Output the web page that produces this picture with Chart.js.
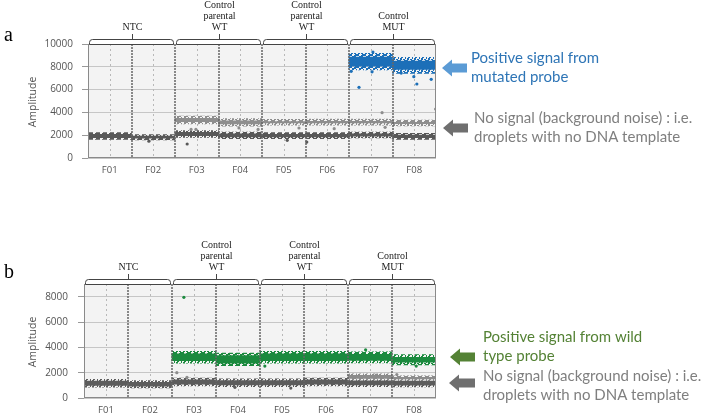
<!DOCTYPE html>
<html>
<head>
<meta charset="utf-8">
<script src="https://cdn.jsdelivr.net/npm/chart.js@4.4.0/dist/chart.umd.min.js"></script>
<style>
    html, body { margin: 0; padding: 0; background: #fff; }
    body { width: 709px; height: 418px; position: relative; overflow: hidden; }
    canvas { position: absolute; left: 0; }
    #chart-a { top: 0; }
    #chart-b { top: 190px; }
</style>
</head>
<body>
<canvas id="chart-a" width="709" height="190"></canvas>
<canvas id="chart-b" width="709" height="228"></canvas>
<script>
// wells on the x axis
var wells = ['F01', 'F02', 'F03', 'F04', 'F05', 'F06', 'F07', 'F08'];

// sample groups above the wells
var groupNames = [['NTC'], ['Control', 'parental', 'WT'], ['Control', 'parental', 'WT'], ['Control', 'MUT']];
var groupSpans = [[0, 2], [2, 4], [4, 6], [6, 8]];

// panel a : droplet clusters, [low, high] amplitude per well (null = no cluster)
var aNoise = [[1640, 2220], [1580, 2050], [1810, 2400], [1700, 2280], [1700, 2220], [1700, 2220], [1760, 2280], [1640, 2160]];
var aGrey  = [null, null, [2980, 3680], [2800, 3450], [2870, 3390], [2870, 3420], [2870, 3420], [2810, 3330]];
var aMut   = [null, null, null, null, null, null, [7720, 9180], [7430, 8830]];

// panel a : single droplets outside the clusters [well position, amplitude]
var aMutOut   = [[6.23, 6200], [6.53, 7560], [7.49, 7130], [7.56, 6490], [7.89, 6900], [6.05, 7600], [6.55, 9300], [7.2, 7450]];
var aGreyOut  = [[6.76, 3980], [6.83, 2690], [4.85, 2630], [5.66, 2570], [2.37, 2510], [2.48, 2510], [3.47, 2630], [3.91, 2510], [7.99, 4300]];
var aNoiseOut = [[2.28, 1230], [4.58, 1550], [5.03, 1400], [1.4, 1480]];

// panel b : droplet clusters
var bNoise = [[850, 1470], [790, 1370], [950, 1580], [890, 1520], [900, 1520], [950, 1580], [900, 1500], [880, 1480]];
var bGrey  = [null, null, null, null, null, null, [1420, 1900], [1380, 1750]];
var bWild  = [null, null, [2740, 3680], [2550, 3550], [2740, 3680], [2740, 3680], [2760, 3650], [2620, 3420]];

// panel b : single droplets
var bWildOut  = [[2.27, 7950], [4.11, 2520], [7.55, 2520], [6.4, 3800]];
var bGreyOut  = [[2.11, 2000], [2.34, 1630], [6.64, 1800], [7.11, 1850]];
var bNoiseOut = [[3.43, 840], [4.7, 780]];

/**
 * Fixed dot texture used for the loose edge of a cluster
 */
function dotPattern(color) {
    var c = document.createElement('canvas');
    c.width = 7;
    c.height = 6;
    var g = c.getContext('2d');
    g.fillStyle = color;
    [[0, 0], [4, 1], [2, 2], [6, 3], [1, 4], [4, 5], [5, 0]].forEach(function (p) {
        g.fillRect(p[0], p[1], 2, 2);
    });
    return g.createPattern(c, 'repeat');
}

/**
 * Floating bars (dense core + speckled edge) for one droplet cluster
 */
function clusterSets(ranges, color, pad, order) {
    var core = [], edge = [];
    ranges.forEach(function (r, i) {
        if (!r) return;
        edge.push({ x: i + 0.5, y: [r[0], r[1]] });
        core.push({ x: i + 0.5, y: [r[0] + pad, r[1] - pad] });
    });
    var base = { type: 'bar', grouped: false, barPercentage: 1, categoryPercentage: 1, borderWidth: 0 };
    return [
        Object.assign({}, base, { data: edge, backgroundColor: dotPattern(color), order: order + 1 }),
        Object.assign({}, base, { data: core, backgroundColor: color, order: order })
    ];
}

function dropletSet(points, color, order) {
    return {
        type: 'scatter',
        data: points.map(function (p) { return { x: p[0], y: p[1] }; }),
        backgroundColor: color,
        pointRadius: 1.6,
        pointBorderWidth: 0,
        order: order
    };
}

function drawArrow(ctx, a) {
    var hw = 10, hh = 8.5, sh = 4.5;
    ctx.fillStyle = a.color;
    ctx.beginPath();
    ctx.moveTo(a.x1, a.y);
    ctx.lineTo(a.x1 + hw, a.y - hh);
    ctx.lineTo(a.x1 + hw, a.y - sh);
    ctx.lineTo(a.x2, a.y - sh);
    ctx.lineTo(a.x2, a.y + sh);
    ctx.lineTo(a.x1 + hw, a.y + sh);
    ctx.lineTo(a.x1 + hw, a.y + hh);
    ctx.closePath();
    ctx.fill();
}

// plot background, well lines, group brackets and the notes on the right
var panelDecor = {
    id: 'panelDecor',
    beforeDraw: function (chart) {
        var c = chart.chartArea, ctx = chart.ctx;
        ctx.save();
        ctx.fillStyle = '#f3f3f3';
        ctx.fillRect(c.left, c.top, c.right - c.left, c.bottom - c.top);
        ctx.restore();
    },
    beforeDatasetsDraw: function (chart) {
        var c = chart.chartArea, ctx = chart.ctx, x = chart.scales.x;
        ctx.save();
        ctx.strokeStyle = '#b8b8b8';
        ctx.lineWidth = 1;
        ctx.setLineDash([2, 3]);
        wells.forEach(function (w, i) {
            var px = Math.round(x.getPixelForValue(i + 0.5)) + 0.5;
            ctx.beginPath(); ctx.moveTo(px, c.top); ctx.lineTo(px, c.bottom); ctx.stroke();
        });
        ctx.restore();
    },
    afterDatasetsDraw: function (chart) {
        var c = chart.chartArea, ctx = chart.ctx, x = chart.scales.x;
        ctx.save();
        ctx.strokeStyle = '#666';
        ctx.lineWidth = 1.5;
        ctx.setLineDash([2, 1]);
        for (var i = 1; i < wells.length; i++) {
            var px = Math.round(x.getPixelForValue(i));
            ctx.beginPath(); ctx.moveTo(px, c.top); ctx.lineTo(px, c.bottom); ctx.stroke();
        }
        ctx.setLineDash([]);
        ctx.lineWidth = 1;
        ctx.strokeStyle = '#8a8a8a';
        ctx.strokeRect(c.left + 0.5, c.top + 0.5, c.right - c.left - 1, c.bottom - c.top - 1);
        ctx.restore();
    },
    afterDraw: function (chart, args, opts) {
        var c = chart.chartArea, ctx = chart.ctx, x = chart.scales.x;
        ctx.save();
        // group brackets
        groupSpans.forEach(function (s, g) {
            var x1 = x.getPixelForValue(s[0]) + 1, x2 = x.getPixelForValue(s[1]) - 1;
            var top = c.top - 5, cx = Math.round((x1 + x2) / 2) + 0.5;
            ctx.fillStyle = '#fff';
            ctx.strokeStyle = '#444';
            ctx.lineWidth = 1;
            ctx.beginPath();
            ctx.roundRect(x1 + 0.5, top + 0.5, x2 - x1 - 1, 5, [3, 3, 0, 0]);
            ctx.fill();
            ctx.stroke();
            ctx.beginPath(); ctx.moveTo(cx, top); ctx.lineTo(cx, top - 5); ctx.stroke();
            ctx.fillStyle = '#222';
            ctx.font = '10px "Liberation Serif"';
            ctx.textAlign = 'center';
            ctx.textBaseline = 'middle';
            var lines = groupNames[g];
            lines.forEach(function (t, k) {
                ctx.fillText(t, cx, c.top - 17 - (lines.length - 1 - k) * 11);
            });
        });
        // y title
        ctx.translate(33, (c.top + c.bottom) / 2 + 1);
        ctx.rotate(-Math.PI / 2);
        ctx.fillStyle = '#555';
        ctx.font = '10.5px "Open Sans"';
        ctx.textAlign = 'center';
        ctx.textBaseline = 'middle';
        ctx.fillText('Amplitude', 0, 0);
        ctx.setTransform(1, 0, 0, 1, 0, 0);
        // panel letter
        ctx.fillStyle = '#000';
        ctx.font = '20px "Liberation Serif"';
        ctx.textAlign = 'left';
        ctx.textBaseline = 'alphabetic';
        ctx.fillText(opts.letter, 4, opts.letterY);
        // notes with arrows
        opts.notes.forEach(function (n) {
            drawArrow(ctx, n.arrow);
            ctx.fillStyle = n.color;
            ctx.font = '15px Lato';
            ctx.textBaseline = 'middle';
            n.lines.forEach(function (t, k) {
                ctx.fillText(t, n.x, n.y[k]);
            });
        });
        ctx.restore();
    }
};

/**
 * Function to generate one droplet panel
 */
function generatePanel(canvasId, yMax, datasets, pad, tickPad, decor) {
    new Chart(document.getElementById(canvasId), {
        type: 'scatter',
        data: { datasets: datasets },
        plugins: [panelDecor],
        options: {
            responsive: false,
            animation: false,
            layout: { padding: pad },
            plugins: { legend: { display: false }, tooltip: { enabled: false }, panelDecor: decor },
            scales: {
                x: {
                    type: 'linear', min: 0, max: wells.length, offset: false,
                    afterBuildTicks: function (axis) {
                        axis.ticks = wells.map(function (w, i) { return { value: i + 0.5 }; });
                    },
                    afterFit: function (axis) { axis.height = pad.xh; },
                    grid: { display: false, drawTicks: false },
                    border: { display: false },
                    ticks: {
                        autoSkip: false, maxRotation: 0, padding: 7, color: '#555',
                        font: { family: 'Open Sans', size: 9.5 },
                        callback: function (v) { return wells[Math.floor(v)]; }
                    }
                },
                y: {
                    min: 0, max: yMax,
                    afterFit: function (axis) { axis.width = 50; },
                    grid: { color: '#c6c6c6', tickLength: 6, tickColor: '#999' },
                    border: { display: false },
                    ticks: {
                        stepSize: 1000, padding: tickPad, color: '#555',
                        font: { family: 'Open Sans', size: 10 },
                        callback: function (v) { return v % 2000 === 0 ? v : ''; }
                    }
                }
            }
        }
    });
}

var greyNote = ['No signal (background noise) : i.e.', 'droplets with no DNA template'];

generatePanel('chart-a', 10000,
    [].concat(
        [dropletSet(aMutOut, '#1c6fb8', 0), dropletSet(aGreyOut, '#8e8e8e', 0), dropletSet(aNoiseOut, '#585858', 0)],
        clusterSets(aMut, '#1c6fb8', 330, 2),
        clusterSets(aGrey, '#8e8e8e', 200, 4),
        clusterSets(aNoise, '#585858', 150, 6)
    ),
    { top: 44, left: 38, right: 273, bottom: 10, xh: 22 }, 9,
    {
        letter: 'a', letterY: 41,
        notes: [
            { color: '#2e75b6', x: 471, y: [58, 77], lines: ['Positive signal from', 'mutated probe'],
              arrow: { x1: 442, x2: 467, y: 68, color: '#5b9bd5' } },
            { color: '#7f7f7f', x: 474, y: [118, 137], lines: greyNote,
              arrow: { x1: 443, x2: 468, y: 128, color: '#6f6f6f' } }
        ]
    });

generatePanel('chart-b', 9000,
    [].concat(
        [dropletSet(bWildOut, '#1b8a3e', 0), dropletSet(bGreyOut, '#8c8c8c', 0), dropletSet(bNoiseOut, '#5c5c5c', 0)],
        clusterSets(bWild, '#1b8a3e', 200, 2),
        clusterSets(bGrey, '#8c8c8c', 120, 4),
        clusterSets(bNoise, '#5c5c5c', 140, 6)
    ),
    { top: 94, left: 34, right: 273, bottom: 2, xh: 18 }, 10,
    {
        letter: 'b', letterY: 88,
        notes: [
            { color: '#548235', x: 483, y: [147, 166], lines: ['Positive signal from wild', 'type probe'],
              arrow: { x1: 450, x2: 475, y: 167, color: '#548235' } },
            { color: '#7f7f7f', x: 483, y: [186, 205], lines: greyNote,
              arrow: { x1: 449, x2: 475, y: 193, color: '#6f6f6f' } }
        ]
    });
</script>
</body>
</html>
